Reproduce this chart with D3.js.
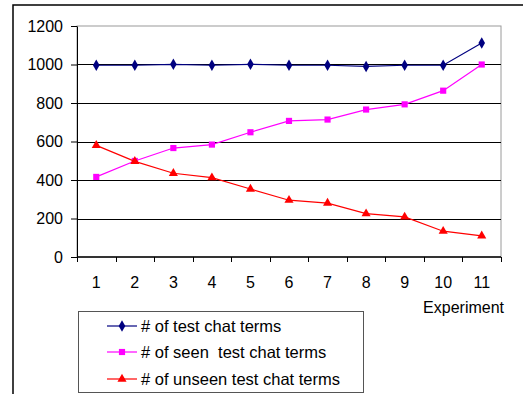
<!DOCTYPE html>
<html>
<head>
<meta charset="utf-8">
<script src="https://cdn.jsdelivr.net/npm/d3@7"></script>
<style>
  html, body { margin: 0; padding: 0; background: #fff; }
  svg { display: block; font-family: "Liberation Sans", Arial, sans-serif; }
  text { white-space: pre; }
</style>
</head>
<body>
<svg id="chart" width="523" height="394"></svg>
<script>
// Experiment numbers along the category axis
const experiments = ["1", "2", "3", "4", "5", "6", "7", "8", "9", "10", "11"];
// Series values
const testTerms   = [996, 996, 1001, 996, 1001, 996, 996, 990, 996, 996, 1112];
const seenTerms   = [416, 499, 566, 584, 648, 707, 714, 766, 793, 864, 1000];
const unseenTerms = [580, 497, 435, 412, 353, 295, 280, 225, 208, 134, 110];
// Value axis ticks
const yTicks = [0, 200, 400, 600, 800, 1000, 1200];

const series = [
  { name: "# of test chat terms", values: testTerms, color: "#000080", symbol: d3.symbolDiamond, size: 38 },
  { name: "# of seen  test chat terms", values: seenTerms, color: "#FF00FF", symbol: d3.symbolSquare, size: 38 },
  { name: "# of unseen test chat terms", values: unseenTerms, color: "#FF0000", symbol: d3.symbolTriangle, size: 36 }
];

const svg = d3.select("#chart");
const plot = { left: 77, top: 26, right: 501, bottom: 257 };

// outer chart frame (extends past the window edges)
svg.append("rect")
  .attr("x", 13).attr("y", 5).attr("width", 560).attr("height", 440)
  .attr("fill", "none").attr("stroke", "#000").attr("stroke-width", 1.5);

const x = d3.scaleBand().domain(experiments).range([plot.left, plot.right]).padding(0);
const y = d3.scaleLinear().domain([0, 1200]).range([plot.bottom, plot.top]);

// plot area border
svg.append("rect")
  .attr("x", plot.left).attr("y", plot.top)
  .attr("width", plot.right - plot.left).attr("height", plot.bottom - plot.top)
  .attr("fill", "#fff").attr("stroke", "#9a9a9a").attr("stroke-width", 1);

// horizontal gridlines
svg.append("g").selectAll("line")
  .data(yTicks.filter(t => t > 0 && t < 1200))
  .join("line")
  .attr("x1", plot.left).attr("x2", plot.right)
  .attr("y1", d => Math.round(y(d)) + 0.5).attr("y2", d => Math.round(y(d)) + 0.5)
  .attr("stroke", "#000").attr("stroke-width", 1);

// y axis
const yAxis = svg.append("g")
  .attr("transform", `translate(${plot.left},0)`)
  .call(d3.axisLeft(y).tickValues(yTicks).tickFormat(d3.format("d"))
    .tickSize(6).tickPadding(8).tickSizeOuter(0));
yAxis.select(".domain").attr("stroke", "#000");
yAxis.selectAll(".tick line").attr("stroke", "#000");
yAxis.selectAll(".tick text")
  .attr("font-size", 16).attr("fill", "#000")
  .attr("font-family", "Liberation Sans, Arial, sans-serif");

// x axis: ticks at category boundaries
const xAxisG = svg.append("g").attr("transform", `translate(0,${plot.bottom})`);
xAxisG.append("line")
  .attr("x1", plot.left).attr("x2", plot.right)
  .attr("y1", 0).attr("y2", 0)
  .attr("stroke", "#000").attr("stroke-width", 1.5);
const boundaries = experiments.map(d => x(d)).concat([x(experiments[experiments.length - 1]) + x.bandwidth()]);
xAxisG.selectAll("line.tick")
  .data(boundaries)
  .join("line")
  .attr("class", "tick")
  .attr("x1", d => Math.round(d) + 0.5).attr("x2", d => Math.round(d) + 0.5)
  .attr("y1", 0).attr("y2", 5)
  .attr("stroke", "#000");
xAxisG.selectAll("text")
  .data(experiments)
  .join("text")
  .attr("x", d => x(d) + x.bandwidth() / 2)
  .attr("y", 31)
  .attr("text-anchor", "middle")
  .attr("font-size", 16)
  .text(d => d);

// axis title
svg.append("text")
  .attr("x", 504).attr("y", 313)
  .attr("text-anchor", "end")
  .attr("font-size", 16)
  .text("Experiment");

// series lines and markers
const line = d3.line()
  .x((d, i) => x(experiments[i]) + x.bandwidth() / 2)
  .y(d => y(d));

series.forEach(s => {
  svg.append("path")
    .attr("d", line(s.values))
    .attr("fill", "none")
    .attr("stroke", s.color)
    .attr("stroke-width", 1.2);
  svg.append("g").selectAll("path")
    .data(s.values)
    .join("path")
    .attr("transform", (d, i) => `translate(${x(experiments[i]) + x.bandwidth() / 2},${y(d)})`)
    .attr("d", d3.symbol().type(s.symbol).size(s.size))
    .attr("fill", s.color);
});

// legend
const legend = svg.append("g");
legend.append("rect")
  .attr("x", 78.5).attr("y", 311.5).attr("width", 285).attr("height", 81)
  .attr("fill", "#fff").attr("stroke", "#555").attr("stroke-width", 1);
const rowY = [326, 352, 379];
series.forEach((s, i) => {
  const g = legend.append("g").attr("transform", `translate(0,${rowY[i]})`);
  g.append("line")
    .attr("x1", 107).attr("x2", 137).attr("y1", 0).attr("y2", 0)
    .attr("stroke", s.color).attr("stroke-width", 1.2);
  g.append("path")
    .attr("transform", "translate(122,0)")
    .attr("d", d3.symbol().type(s.symbol).size(s.size))
    .attr("fill", s.color);
  g.append("text")
    .attr("x", 141).attr("y", 0).attr("dy", "0.35em")
    .attr("font-size", 16.5)
    .text(s.name);
});
</script>
</body>
</html>
